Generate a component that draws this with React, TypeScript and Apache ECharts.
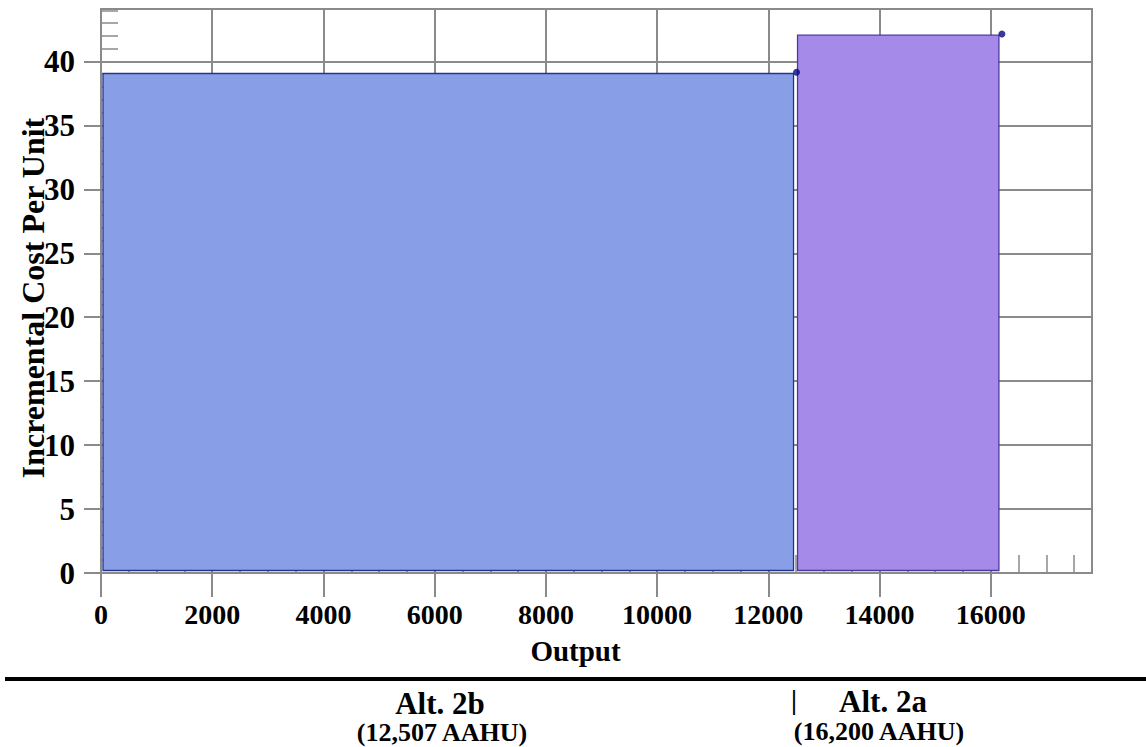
import React, { useEffect, useRef } from "react";
import * as echarts from "echarts";

// ---- data ----
const alternatives = ["Alt. 2b", "Alt. 2a"];
const altOutputLabels = ["(12,507 AAHU)", "(16,200 AAHU)"];
const outputStart = [0, 12507];
const outputEnd = [12507, 16200];
const incrementalCost = [39.15, 42.15];
const xTickValues = [0, 2000, 4000, 6000, 8000, 10000, 12000, 14000, 16000];
const yTickValues = [0, 5, 10, 15, 20, 25, 30, 35, 40];
const xMax = 17820;
const yMax = 44.1;

const barFills = ["#889FE8", "#A58AEA"];
const barStrokes = ["#24358F", "#4B3A9E"];
const FONT = "'Liberation Serif', 'Times New Roman', serif";
const GRID = "#8a8a8a";

export default function App() {
  const ref = useRef<HTMLDivElement>(null);
  useEffect(() => {
    if (!ref.current) return;
    const chart = echarts.init(ref.current, null, { renderer: "svg" });
    const barData = outputStart.map((s, i) => [s, outputEnd[i], incrementalCost[i]]);
    const dotData = outputEnd.map((e, i) => [e, incrementalCost[i]]);
    chart.setOption({
      animation: false,
      backgroundColor: "#ffffff",
      grid: {
        left: 101,
        top: 9,
        right: 54,
        bottom: 174,
        show: true,
        borderColor: GRID,
        borderWidth: 2,
        containLabel: false,
        outerBoundsMode: "none",
      },
      xAxis: [
        {
          type: "value",
          position: "bottom",
          min: 0,
          max: xMax,
          interval: 2000,
          name: "Output",
          nameLocation: "middle",
          nameGap: 63,
          nameMoveOverlap: false,
          nameTextStyle: {
            fontFamily: FONT,
            fontWeight: "bold",
            fontSize: 29,
            color: "#000",
            padding: [0, 42, 0, 0],
          },
          axisLine: { show: true, lineStyle: { color: GRID, width: 2 } },
          axisTick: { show: true, length: 24, customValues: xTickValues, lineStyle: { color: GRID, width: 2 } },
          axisLabel: {
            show: true,
            customValues: xTickValues,
            formatter: (v: number) => String(v),
            margin: 27,
            fontFamily: FONT,
            fontWeight: "bold",
            fontSize: 28,
            color: "#000",
          },
          splitLine: { show: true, lineStyle: { color: GRID, width: 2 } },
        },
        {
          type: "value",
          position: "bottom",
          min: 0,
          max: xMax,
          interval: 500,
          axisLine: { show: false },
          axisTick: { show: true, inside: true, length: 18, lineStyle: { color: GRID, width: 1.5 } },
          axisLabel: { show: false },
          splitLine: { show: false },
        },
      ],
      yAxis: [
        {
          type: "value",
          position: "left",
          min: 0,
          max: yMax,
          interval: 5,
          name: "Incremental Cost Per Unit",
          nameLocation: "middle",
          nameGap: 52,
          nameMoveOverlap: false,
          nameTextStyle: {
            fontFamily: FONT,
            fontWeight: "bold",
            fontSize: 32,
            color: "#000",
            padding: [0, 14, 0, 0],
          },
          axisLine: { show: true, lineStyle: { color: GRID, width: 2 } },
          axisTick: { show: true, length: 17, customValues: yTickValues, lineStyle: { color: GRID, width: 2 } },
          axisLabel: {
            show: true,
            customValues: yTickValues,
            margin: 26,
            fontFamily: FONT,
            fontWeight: "bold",
            fontSize: 31,
            color: "#000",
          },
          splitLine: { show: true, lineStyle: { color: GRID, width: 2 } },
        },
        {
          type: "value",
          position: "left",
          min: 0,
          max: yMax,
          interval: 1,
          axisLine: { show: false },
          axisTick: { show: true, inside: true, length: 17, lineStyle: { color: GRID, width: 1.5 } },
          axisLabel: { show: false },
          splitLine: { show: false },
        },
      ],
      series: [
        {
          type: "custom",
          name: "Alternatives",
          xAxisIndex: 0,
          yAxisIndex: 0,
          encode: { x: [0, 1], y: 2 },
          data: barData,
          z: 3,
          renderItem: (params: any, api: any) => {
            const p0 = api.coord([api.value(0), api.value(2)]);
            const p1 = api.coord([api.value(1), 0]);
            const i = params.dataIndex;
            const x0 = p0[0] + (i === 0 ? 2 : 1);
            const y0 = p0[1] + 1.2;
            return {
              type: "rect",
              shape: { x: x0, y: y0, width: p1[0] - 3 - x0, height: p1[1] - 2.5 - y0 },
              style: { fill: barFills[i], stroke: barStrokes[i], lineWidth: 1.3 },
            };
          },
        },
        {
          type: "scatter",
          xAxisIndex: 0,
          yAxisIndex: 0,
          data: dotData,
          symbol: "circle",
          symbolSize: 7,
          itemStyle: { color: "#080880" },
          z: 4,
        },
      ],
      graphic: [
        {
          type: "line",
          shape: { x1: 5, y1: 679, x2: 1146, y2: 679 },
          style: { stroke: "#000", lineWidth: 4 },
        },
        {
          type: "text",
          x: 440,
          y: 703,
          style: {
            text: alternatives[0],
            font: `bold 31px ${FONT}`,
            fill: "#000",
            align: "center",
            verticalAlign: "middle",
          },
        },
        {
          type: "text",
          x: 442,
          y: 732,
          style: {
            text: altOutputLabels[0],
            font: `bold 26px ${FONT}`,
            fill: "#000",
            align: "center",
            verticalAlign: "middle",
          },
        },
        {
          type: "text",
          x: 794,
          y: 700,
          style: {
            text: "|",
            font: `bold 27px ${FONT}`,
            fill: "#000",
            align: "center",
            verticalAlign: "middle",
          },
        },
        {
          type: "text",
          x: 883,
          y: 701,
          style: {
            text: alternatives[1],
            font: `bold 31px ${FONT}`,
            fill: "#000",
            align: "center",
            verticalAlign: "middle",
          },
        },
        {
          type: "text",
          x: 879,
          y: 731,
          style: {
            text: altOutputLabels[1],
            font: `bold 26px ${FONT}`,
            fill: "#000",
            align: "center",
            verticalAlign: "middle",
          },
        },
      ],
    });
    return () => chart.dispose();
  }, []);
  return (
    <div
      ref={ref}
      style={{ position: "absolute", left: 0, top: 0, width: 1146, height: 747 }}
    />
  );
}
